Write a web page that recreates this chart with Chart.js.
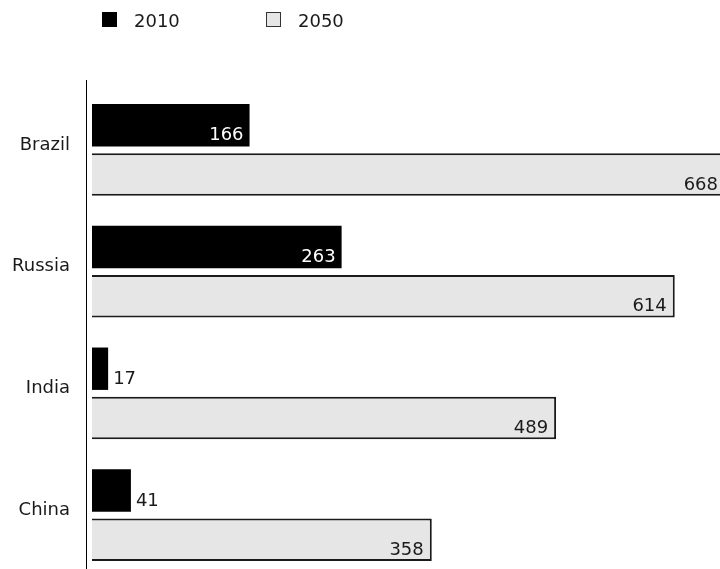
<!DOCTYPE html>
<html>
<head>
<meta charset="utf-8">
<script src="https://cdn.jsdelivr.net/npm/chart.js@4/dist/chart.umd.min.js"></script>
<style>
  html, body { margin: 0; padding: 0; background: #fff; overflow: hidden; }
  canvas { display: block; }
</style>
</head>
<body>
<canvas id="bricChart" width="730" height="580"></canvas>
<script>
const paises = ['Brazil', 'Russia', 'India', 'China'];
const valores2010 = [166, 263, 17, 41];
const valores2050 = [668, 614, 489, 358];
const anios = ['2010', '2050'];

const FUENTE = '18px "DejaVu Sans", Verdana, sans-serif';

// Leyenda propia arriba: cuadro + año
const leyenda = {
    id: 'leyendaArriba',
    afterDraw(chart) {
        const ctx = chart.ctx;
        const items = [
            { x: 102, fill: '#000000', stroke: null, texto: anios[0] },
            { x: 266, fill: '#e6e6e6', stroke: '#333333', texto: anios[1] }
        ];
        ctx.save();
        ctx.font = FUENTE;
        ctx.textBaseline = 'alphabetic';
        ctx.textAlign = 'left';
        items.forEach(it => {
            ctx.fillStyle = it.fill;
            ctx.fillRect(it.x, 12, 15, 15);
            if (it.stroke) {
                ctx.strokeStyle = it.stroke;
                ctx.lineWidth = 1;
                ctx.strokeRect(it.x + 0.5, 12.5, 14, 14);
            }
            ctx.fillStyle = '#1a1a1a';
            ctx.fillText(it.texto, it.x + 32, 27);
        });
        ctx.restore();
    }
};

// Línea vertical del eje, un poco a la izquierda de las barras
const lineaEje = {
    id: 'lineaEje',
    afterDraw(chart) {
        const ctx = chart.ctx;
        const x = chart.chartArea.left - 5.5;
        ctx.save();
        ctx.strokeStyle = '#000';
        ctx.lineWidth = 1;
        ctx.beginPath();
        ctx.moveTo(x, chart.chartArea.top - 9);
        ctx.lineTo(x, chart.height);
        ctx.stroke();
        ctx.restore();
    }
};

// Valores al final de cada barra, pegados abajo
const etiquetas = {
    id: 'etiquetasValor',
    afterDatasetsDraw(chart) {
        const ctx = chart.ctx;
        ctx.save();
        ctx.font = FUENTE;
        ctx.textBaseline = 'alphabetic';
        chart.data.datasets.forEach((ds, i) => {
            const meta = chart.getDatasetMeta(i);
            meta.data.forEach((bar, j) => {
                const texto = String(ds.data[j]);
                const ancho = ctx.measureText(texto).width;
                const abajo = bar.y + bar.height / 2 - 6;
                const largo = bar.x - bar.base;
                if (i === 0) {
                    if (largo > ancho + 30) {
                        ctx.fillStyle = '#ffffff';
                        ctx.textAlign = 'right';
                        ctx.fillText(texto, bar.x - 6, abajo);
                    } else {
                        ctx.fillStyle = '#1a1a1a';
                        ctx.textAlign = 'left';
                        ctx.fillText(texto, bar.x + 5, abajo);
                    }
                } else {
                    ctx.fillStyle = '#1a1a1a';
                    ctx.textAlign = 'right';
                    ctx.fillText(texto, bar.x - 8, abajo);
                }
            });
        });
        ctx.restore();
    }
};

const ctx = document.getElementById('bricChart').getContext('2d');
new Chart(ctx, {
    type: 'bar',
    data: {
        labels: paises,
        datasets: [
            {
                label: anios[0],
                data: valores2010,
                backgroundColor: '#000000',
                borderWidth: 0
            },
            {
                label: anios[1],
                data: valores2050,
                backgroundColor: '#e6e6e6',
                borderColor: '#1a1a1a',
                borderWidth: 2
            }
        ]
    },
    options: {
        indexAxis: 'y',
        responsive: false,
        animation: false,
        categoryPercentage: 0.81,
        barPercentage: 0.86,
        layout: { padding: { top: 89, right: 4, bottom: 4, left: 0 } },
        scales: {
            x: {
                display: false,
                min: 0,
                max: 668
            },
            y: {
                grid: { display: false, drawTicks: false },
                border: { display: false },
                ticks: {
                    padding: 22,
                    labelOffset: -5,
                    color: '#1a1a1a',
                    font: { family: '"DejaVu Sans", Verdana, sans-serif', size: 18 }
                },
                afterFit(scale) {
                    // ancho fijo y sin el margen extra que mete el padding de los ticks
                    scale.width = 92;
                    scale.paddingTop = 0;
                    scale.paddingBottom = 0;
                }
            }
        },
        plugins: {
            legend: { display: false },
            tooltip: { enabled: false }
        }
    },
    plugins: [leyenda, lineaEje, etiquetas]
});
</script>
</body>
</html>
